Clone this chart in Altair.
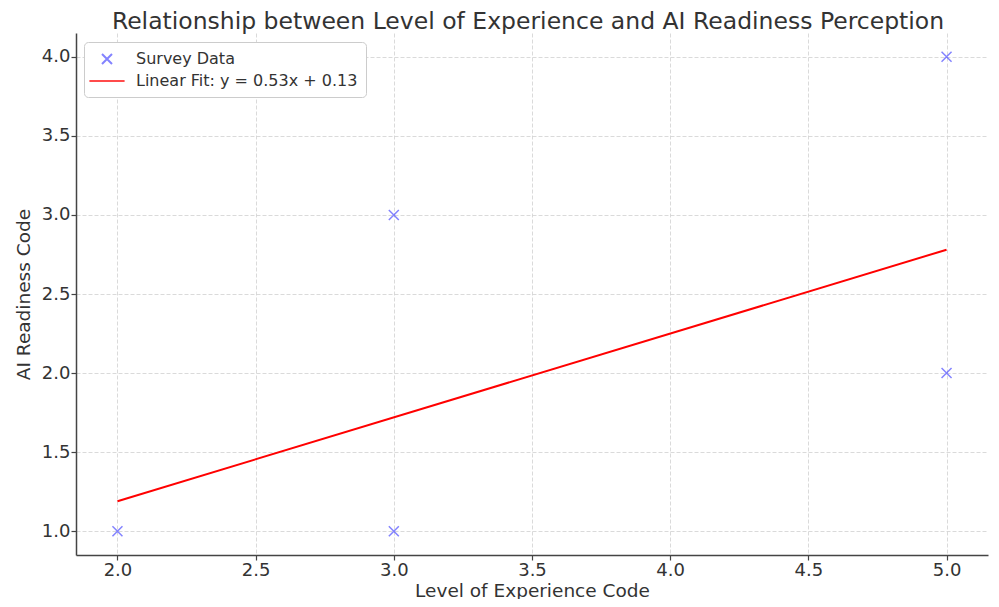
import altair as alt
import pandas as pd

# Data
exp_code = [2, 3, 3, 5, 5]
ai_code = [1, 3, 1, 4, 2]
fit_x = [2, 5]
fit_y = [1.19, 2.78]
series_points = "Survey Data"
series_fit = "Linear Fit: y = 0.53x + 0.13"
x_ticks = [2.0, 2.5, 3.0, 3.5, 4.0, 4.5, 5.0]
y_ticks = [1.0, 1.5, 2.0, 2.5, 3.0, 3.5, 4.0]
title_text = ["Relationship between Level of Experience and AI Readiness Perception"]

pts = pd.DataFrame({"x": exp_code, "y": ai_code, "series": [series_points] * len(exp_code)})
fit = pd.DataFrame({"x": fit_x, "y": fit_y, "series": [series_fit] * len(fit_x)})
ttl = pd.DataFrame({"t": title_text})

X_PATH = "M-0.625,-0.625L0.625,0.625M-0.625,0.625L0.625,-0.625"
LINE_PATH = "M-2.2,0L2.2,0"

xscale = alt.Scale(domain=[1.85, 5.15], nice=False, zero=False)
yscale = alt.Scale(domain=[0.85, 4.15], nice=False, zero=False)
color_scale = alt.Scale(domain=[series_points, series_fit], range=["#5050ff", "#ff0000"])
shape_scale = alt.Scale(domain=[series_points, series_fit], range=[X_PATH, LINE_PATH])

xaxis = alt.Axis(title="Level of Experience Code", values=x_ticks, format=".1f")
yaxis = alt.Axis(title="AI Readiness Code", values=y_ticks, format=".1f")

legend = alt.Legend(
    title=None, orient="none", legendX=8, legendY=9,
    fillColor="white", strokeColor="#cccccc", cornerRadius=4, padding=8,
    labelFontSize=16, labelColor="#333333", labelFont="DejaVu Sans", labelLimit=400,
    symbolSize=256, symbolStrokeWidth=2, rowPadding=4, labelOffset=20,
    symbolOffset=6,
)

points = alt.Chart(pts).mark_point(filled=False, strokeWidth=1.5, size=256).encode(
    x=alt.X("x:Q", scale=xscale, axis=xaxis),
    y=alt.Y("y:Q", scale=yscale, axis=yaxis),
    color=alt.Color("series:N", scale=color_scale, legend=legend),
    shape=alt.Shape("series:N", scale=shape_scale, legend=legend),
)

line = alt.Chart(fit).mark_line(strokeWidth=2).encode(
    x=alt.X("x:Q", scale=xscale, axis=xaxis),
    y=alt.Y("y:Q", scale=yscale, axis=yaxis),
    color=alt.Color("series:N", scale=color_scale, legend=legend),
)

title = alt.Chart(ttl).mark_text(
    font="DejaVu Sans", fontSize=23.5, color="#333333", align="center", baseline="alphabetic"
).encode(
    text="t:N", x=alt.value(452), y=alt.value(-4)
)

chart = alt.layer(points, line, title).properties(
    width=912, height=522,
    autosize=alt.AutoSizeParams(type="none"),
    padding={"left": 68, "top": 25, "right": 3, "bottom": 44},
).configure_view(stroke=None).configure_axis(
    labelFont="DejaVu Sans", titleFont="DejaVu Sans",
    labelFontSize=18, titleFontSize=18.5, labelColor="#333333", titleColor="#333333",
    titleFontWeight="normal",
    domainColor="#444444", domainWidth=1.5, tickColor="#444444", tickSize=5, tickWidth=1.2,
    gridColor="#d0d0d0", gridDash=[4, 2], gridWidth=0.8, labelPadding=1,
).configure_axisX(titlePadding=2).configure_axisY(titlePadding=8)

chart.save("out.html", embed_options={"renderer": "svg", "actions": False})
